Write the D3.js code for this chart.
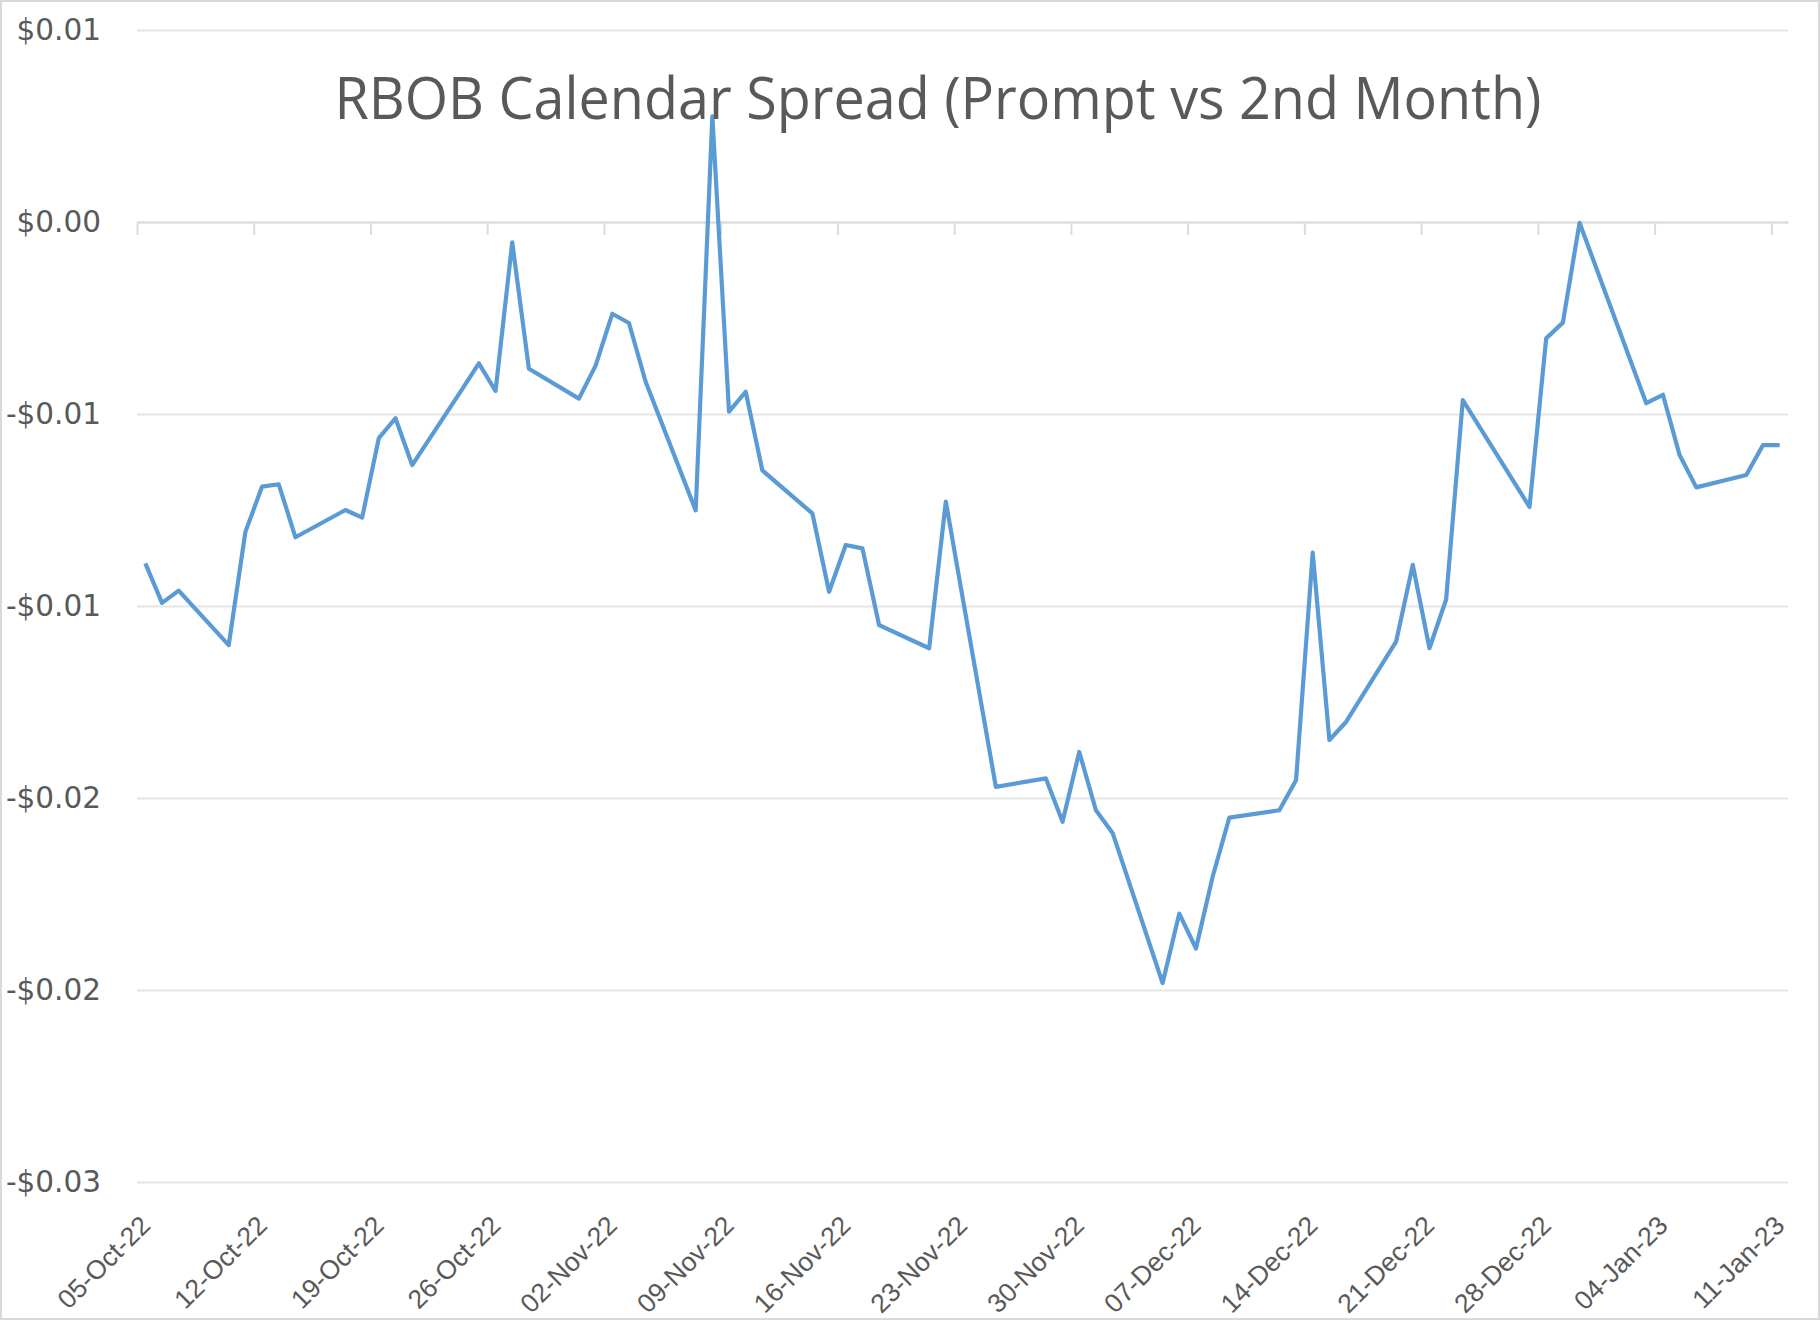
<!DOCTYPE html>
<html>
<head>
<meta charset="utf-8">
<script src="https://cdn.jsdelivr.net/npm/d3@7"></script>
<style>
  html, body { margin: 0; padding: 0; background: #fff; }
  svg { display: block; }
</style>
</head>
<body>
<div id="root"></div>
<script>
// tick labels as shown on the reference
const xTickLabels = ['05-Oct-22', '12-Oct-22', '19-Oct-22', '26-Oct-22', '02-Nov-22', '09-Nov-22', '16-Nov-22',
  '23-Nov-22', '30-Nov-22', '07-Dec-22', '14-Dec-22', '21-Dec-22', '28-Dec-22', '04-Jan-23', '11-Jan-23']
const yTickValues = [0.005, 0, -0.005, -0.01, -0.015, -0.02, -0.025]
const yTickLabels = ['$0.01', '$0.00', '-$0.01', '-$0.01', '-$0.02', '-$0.02', '-$0.03']

// trading days and prompt-vs-2nd-month spread ($/gal)
const tradeDates = [
  '05-Oct-22', '06-Oct-22', '07-Oct-22', '10-Oct-22', '11-Oct-22', '12-Oct-22', '13-Oct-22', '14-Oct-22',
  '17-Oct-22', '18-Oct-22', '19-Oct-22', '20-Oct-22', '21-Oct-22', '24-Oct-22', '25-Oct-22', '26-Oct-22',
  '27-Oct-22', '28-Oct-22', '31-Oct-22', '01-Nov-22', '02-Nov-22', '03-Nov-22', '04-Nov-22', '07-Nov-22',
  '08-Nov-22', '09-Nov-22', '10-Nov-22', '11-Nov-22', '14-Nov-22', '15-Nov-22', '16-Nov-22', '17-Nov-22',
  '18-Nov-22', '21-Nov-22', '22-Nov-22', '23-Nov-22', '25-Nov-22', '28-Nov-22', '29-Nov-22', '30-Nov-22',
  '01-Dec-22', '02-Dec-22', '05-Dec-22', '06-Dec-22', '07-Dec-22', '08-Dec-22', '09-Dec-22', '12-Dec-22',
  '13-Dec-22', '14-Dec-22', '15-Dec-22', '16-Dec-22', '19-Dec-22', '20-Dec-22', '21-Dec-22', '22-Dec-22',
  '23-Dec-22', '27-Dec-22', '28-Dec-22', '29-Dec-22', '30-Dec-22', '03-Jan-23', '04-Jan-23', '05-Jan-23',
  '06-Jan-23', '09-Jan-23', '10-Jan-23', '11-Jan-23'
]
const spreadValues = [
  -0.00889, -0.00992, -0.00960, -0.01102, -0.00807, -0.00689, -0.00683, -0.00821,
  -0.00750, -0.00770, -0.00563, -0.00511, -0.00633, -0.00435, -0.00368, -0.00440,
  -0.00053, -0.00382, -0.00460, -0.00374, -0.00239, -0.00263, -0.00416, -0.00751,
  0.00275, -0.00494, -0.00442, -0.00647, -0.00759, -0.00963, -0.00841, -0.00850,
  -0.01050, -0.01110, -0.00728, -0.00976, -0.01471, -0.01449, -0.01562, -0.01380,
  -0.01532, -0.01591, -0.01982, -0.01801, -0.01892, -0.01705, -0.01551, -0.01532,
  -0.01454, -0.00861, -0.01349, -0.01302, -0.01093, -0.00893, -0.01110, -0.00983,
  -0.00464, -0.00742, -0.00303, -0.00262, -0.00002, -0.00472, -0.00450, -0.00607,
  -0.00691, -0.00659, -0.00581, -0.00581
]

const TITLE = 'RBOB Calendar Spread (Prompt vs 2nd Month)'

const WIDTH = 1820
const HEIGHT = 1320
const PLOT_LEFT = 137
const PLOT_RIGHT = 1788
const PLOT_TOP = 30
const PLOT_BOTTOM = 1182

const TEXT_COLOR = '#595959'
const GRID_COLOR = '#e5e5e5'
const LINE_COLOR = '#5b9bd5'

const parseDate = d3.utcParse('%d-%b-%y')
const midDay = (d) => d3.utcHour.offset(d, 12)

const tickDates = xTickLabels.map(parseDate)
const data = tradeDates.map((d, i) => ({ date: parseDate(d), value: spreadValues[i] }))

const svg = d3.select('#root')
  .append('svg')
  .attr('width', WIDTH)
  .attr('height', HEIGHT)
  .style('font-family', '"Open Sans", sans-serif')

svg.append('rect')
  .attr('x', 1).attr('y', 1)
  .attr('width', WIDTH - 2).attr('height', HEIGHT - 2)
  .attr('fill', '#fff')
  .attr('stroke', '#d9d9d9')
  .attr('stroke-width', 2)

// each day is a bucket, points sit in the middle of their day
const xScale = d3.scaleUtc()
  .domain([tickDates[0], d3.utcDay.offset(tickDates[tickDates.length - 1], 1)])
  .range([PLOT_LEFT, PLOT_RIGHT])

const yScale = d3.scaleLinear()
  .domain([-0.025, 0.005])
  .range([PLOT_BOTTOM, PLOT_TOP])

// gridlines + value labels
const yAxis = d3.axisLeft(yScale)
  .tickValues(yTickValues)
  .tickSize(-(PLOT_RIGHT - PLOT_LEFT))
  .tickPadding(36)
  .tickFormat((d, i) => yTickLabels[i])

const yAxisG = svg.append('g')
  .attr('transform', `translate(${PLOT_LEFT},0)`)
  .call(yAxis)
yAxisG.select('.domain').remove()
yAxisG.selectAll('.tick line')
  .attr('stroke', GRID_COLOR)
  .attr('stroke-width', 2)
yAxisG.selectAll('.tick text')
  .attr('fill', TEXT_COLOR)
  .style('font-family', '"DejaVu Sans", sans-serif')
  .style('font-size', '29.5px')

// horizontal axis line crosses at zero, weekly tick marks hang below it
const xAxisLine = d3.axisBottom(xScale)
  .tickValues(tickDates)
  .tickSize(13)
  .tickSizeOuter(0)
  .tickFormat('')

const xLineG = svg.append('g')
  .attr('transform', `translate(0,${yScale(0)})`)
  .call(xAxisLine)
xLineG.select('.domain').attr('stroke', '#dcdcdc').attr('stroke-width', 2)
xLineG.selectAll('.tick line').attr('stroke', '#dcdcdc').attr('stroke-width', 2)

// date labels sit at the bottom, rotated
const xLabels = d3.axisBottom(xScale)
  .tickValues(tickDates.map(midDay))
  .tickSize(0)
  .tickFormat((d, i) => xTickLabels[i])

const xLabelG = svg.append('g')
  .attr('transform', `translate(0,${PLOT_BOTTOM})`)
  .call(xLabels)
xLabelG.select('.domain').remove()
xLabelG.selectAll('.tick text')
  .attr('fill', TEXT_COLOR)
  .style('font-size', '26.5px')
  .attr('text-anchor', 'end')
  .attr('dy', null)
  .attr('y', 0)
  .attr('transform', 'translate(6,45) rotate(-45)')

const line = d3.line()
  .x(d => xScale(midDay(d.date)))
  .y(d => yScale(d.value))

svg.append('path')
  .datum(data)
  .attr('d', line)
  .attr('fill', 'none')
  .attr('stroke', LINE_COLOR)
  .attr('stroke-width', 4.2)
  .attr('stroke-linejoin', 'round')

svg.append('text')
  .attr('x', 938)
  .attr('y', 119)
  .attr('text-anchor', 'middle')
  .attr('fill', TEXT_COLOR)
  .style('font-size', '58px')
  .attr('textLength', 1207)
  .attr('lengthAdjust', 'spacingAndGlyphs')
  .text(TITLE)
</script>
</body>
</html>
